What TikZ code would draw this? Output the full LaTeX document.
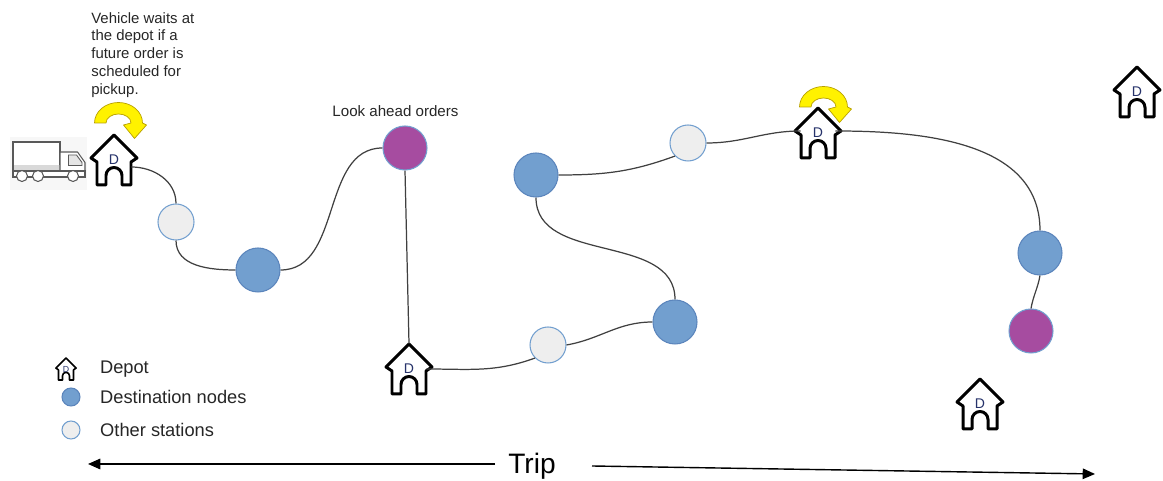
\documentclass[tikz,border=0pt]{standalone}
\usepackage{fontspec}
\setmainfont{Liberation Sans}
\usepackage{tikz}
\usetikzlibrary{arrows.meta,positioning}

\definecolor{destblue}{HTML}{729FCF}
\definecolor{destedge}{HTML}{5B85BC}
\definecolor{stationgray}{HTML}{EEEEEE}
\definecolor{aheadpurple}{HTML}{A64CA0}
\definecolor{roadgray}{HTML}{404040}
\definecolor{depotletter}{HTML}{27336B}
\definecolor{arrowedge}{HTML}{B8A000}

\tikzset{
  road/.style = {roadgray, line width = 0.7pt},
  dest/.style = {circle, fill = destblue, draw = destedge, line width = 0.6pt, minimum size = 0.88cm, inner sep = 0},
  other/.style = {circle, fill = stationgray, draw = destblue, line width = 0.6pt, minimum size = 0.72cm, inner sep = 0},
  ahead/.style = {dest, fill = aheadpurple, draw = destblue},
  depot/.style = {rectangle, minimum width = 0.68cm, minimum height = 1cm, inner sep = 0, text = depotletter, font = \fontsize{8}{9}\selectfont},
  legend/.style = {font = \fontsize{10.4}{12}\selectfont, text = black!85},
  house line/.style = {line width = 1.7pt},
  % house outline with the door cut out
  house/.pic = {
    \draw[house line, line join = round, fill = white] (-0.34,-0.5) -- (-0.34,-0.04) -- (-0.46,0.04) -- (0,0.5) -- (0.46,0.04) -- (0.34,-0.04) -- (0.34,-0.5) -- (0.16,-0.5) -- (0.16,-0.31) arc (0:180:0.16) -- (-0.16,-0.5) -- cycle;
  },
  % yellow turn arrow over a waiting depot
  waitarrow/.pic = {
    \draw[fill = yellow, draw = arrowedge, line width = 0.4pt, line join = round] (-0.48,0) arc[start angle = 180, end angle = 0, x radius = 0.48cm, y radius = 0.41cm] -- (0.56,-0.04) -- (0.32,-0.31) -- (0.10,-0.04) -- (0.25,0) arc[start angle = 0, end angle = 180, x radius = 0.25cm, y radius = 0.18cm] -- cycle;
  },
  truck/.pic = {
    \fill[gray!6] (-0.77,-0.53) rectangle (0.77,0.53);
    \draw[gray!70!black, fill = white, line width = 0.6pt] (-0.71,-0.15) rectangle (0.23,0.43);
    \fill[gray!30] (-0.70,-0.14) rectangle (0.22,-0.04);
    \draw[gray!70!black, fill = white, line width = 0.6pt, line join = round] (0.23,-0.22) -- (0.23,0.23) -- (0.58,0.23) -- (0.73,0.02) -- (0.73,-0.22) -- cycle;
    \draw[gray!70!black, fill = gray!20, line width = 0.5pt] (0.40,-0.04) -- (0.40,0.17) -- (0.56,0.17) -- (0.67,0.02) -- (0.67,-0.04) -- cycle;
    \draw[gray!70!black, fill = white, line width = 0.6pt] (-0.71,-0.27) rectangle (0.73,-0.15);
    \foreach \wx in {-0.53,-0.21,0.49}
      \draw[gray!70!black, fill = white, line width = 0.6pt] (\wx,-0.25) circle (0.11);
  }
}

\begin{document}
\begin{tikzpicture}[> = {Triangle[length = 7pt, width = 6pt]}]
  \useasboundingbox (0,0) rectangle (23.26,9.62);

  % vehicle and the waiting arrows
  \pic at (0.97,6.35) {truck};
  \pic at (2.37,7.16) {waitarrow};
  \pic at (16.47,7.48) {waitarrow};
  \node at (1.82,9.38) [anchor = north west, inner sep = 0, align = left, text = black!85, font = \fontsize{8.5}{10.1}\selectfont] (note) {Vehicle waits at\\the depot if a\\future order is\\scheduled for\\pickup.};

  % depots
  \foreach \name/\pos in {d1/{2.28,6.42}, d2/{8.18,2.24}, d3/{16.36,6.96}, d4/{22.74,7.78}, d5/{19.60,1.54}} {
    \pic at (\pos) {house};
    \node at (\pos) [depot] (\name) {D};
  }

  % stations along the trip
  \node at (3.52,5.18) [other] (o1) {};
  \node at (5.16,4.22) [dest] (b1) {};
  \node at (8.10,6.66) [ahead] (p1) {};
  \node at (10.96,2.72) [other] (o2) {};
  \node at (13.50,3.18) [dest] (b2) {};
  \node at (10.72,6.12) [dest] (b3) {};
  \node at (13.76,6.76) [other] (o3) {};
  \node at (20.80,4.56) [dest] (b4) {};
  \node at (20.62,3.00) [ahead] (p2) {};
  \node at (7.91,7.39) [text = black!85, font = \fontsize{8.6}{10}\selectfont] (aheadlabel) {Look ahead orders};

  % roads
  \draw[road] ([yshift = -0.14cm]d1.east) to[out = 0, in = 90] (o1.north);
  \draw[road] (o1.south) to[out = -90, in = 180] (b1.west);
  \draw[road] (b1.east) to[out = 0, in = 180] (p1.west);
  \draw[road] (p1.south) -- (d2.north);
  \draw[road] (d2.east) to[out = 0, in = 200] (o2.south west);
  \draw[road] (o2.east) to[out = 10, in = 180] (b2.west);
  \draw[road] (b2.north) to[out = 90, in = -90] (b3.south);
  \draw[road] (b3.east) to[out = 0, in = 200] (o3.south west);
  \draw[road] (o3.east) to[out = 0, in = 180] ([yshift = 0.04cm]d3.west);
  \draw[road] ([yshift = 0.04cm]d3.east) to[out = 0, in = 90] (b4.north);
  \draw[road] (b4.south) to[out = -100, in = 80] (p2.north);

  % legend
  \pic[scale = 0.44, house line/.style = {line width = 0.9pt}] at (1.32,2.24) {house};
  \node at (1.32,2.24) [depot, minimum width = 0.3cm, minimum height = 0.44cm, font = \fontsize{5}{6}\selectfont] (lgdepot) {D};
  \node at (1.42,1.68) [dest, minimum size = 0.36cm] (lgdest) {};
  \node at (1.42,1.02) [other, minimum size = 0.36cm] (lgother) {};
  \node[legend, right = 0.4cm of lgdepot] {Depot};
  \node[legend, right = 0.27cm of lgdest] {Destination nodes};
  \node[legend, right = 0.27cm of lgother] {Other stations};

  % trip direction
  \node at (10.64,0.14) [anchor = base, font = \fontsize{16}{19}\selectfont] (trip) {Trip};
  \coordinate (tripa) at (9.90,0.34);
  \coordinate (tripl) at (1.76,0.34);
  \coordinate (tripb) at (11.84,0.30);
  \coordinate (tripr) at (21.90,0.14);
  \draw[->, line width = 0.8pt] (tripa) -- (tripl);
  \draw[->, line width = 0.8pt] (tripb) -- (tripr);
\end{tikzpicture}
\end{document}
